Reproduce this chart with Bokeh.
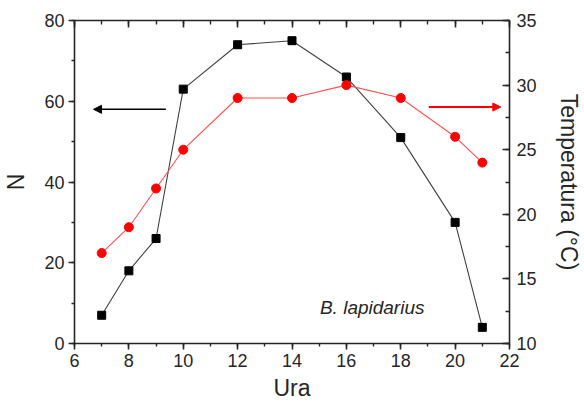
from bokeh.plotting import figure
from bokeh.models import (Range1d, LinearAxis, SingleIntervalTicker, Label, Arrow,
                          NormalHead, CustomJSTickFormatter)
from bokeh.embed import file_html
from bokeh.resources import INLINE

hours = [7, 8, 9, 10, 12, 14, 16, 18, 20, 21]
counts = [7, 18, 26, 63, 74, 75, 66, 51, 30, 4]
temps = [17, 19, 22, 25, 29, 29, 30, 29, 26, 24]
species = "B. lapidarius"
x_label = "Ura"
y_label = "N"
y2_label = "Temperatura (°C)"

FONT = "Liberation Sans"
TXT = "#262626"

p = figure(width=584, height=405, output_backend="svg", toolbar_location=None,
           x_range=Range1d(6, 22), y_range=Range1d(0, 80),
           min_border_left=73, min_border_right=73, min_border_top=20,
           min_border_bottom=62, x_axis_location=None, y_axis_location=None)
p.extra_y_ranges = {"temp": Range1d(10, 35)}
p.xgrid.visible = False
p.ygrid.visible = False
p.outline_line_color = None
p.background_fill_color = "white"
p.border_fill_color = "white"


def style(ax, tick_in=False):
    ax.axis_line_color = TXT
    ax.axis_line_width = 1.6
    ax.major_tick_line_color = TXT
    ax.minor_tick_line_color = TXT
    ax.major_tick_line_width = 1.6
    ax.minor_tick_line_width = 1.4
    if tick_in:
        ax.major_tick_in = 7
        ax.major_tick_out = 0
        ax.minor_tick_in = 4
        ax.minor_tick_out = 0
    else:
        ax.major_tick_in = 0
        ax.major_tick_out = 6
        ax.minor_tick_in = 0
        ax.minor_tick_out = 3
    ax.major_label_text_font = FONT
    ax.major_label_text_font_size = "18px"
    ax.major_label_text_color = TXT
    ax.axis_label_text_font = FONT
    ax.axis_label_text_font_size = "23px"
    ax.axis_label_text_font_style = "normal"
    ax.axis_label_text_color = TXT


xb = LinearAxis(ticker=SingleIntervalTicker(interval=2, num_minor_ticks=2), axis_label=x_label)
style(xb)
xb.major_label_standoff = 4
xb.axis_label_standoff = 5
p.add_layout(xb, "below")

xt = LinearAxis(ticker=SingleIntervalTicker(interval=2, num_minor_ticks=2),
                formatter=CustomJSTickFormatter(code="return ''"))
style(xt, tick_in=True)
xt.major_label_standoff = 0
p.add_layout(xt, "above")

yl = LinearAxis(ticker=SingleIntervalTicker(interval=20, num_minor_ticks=2), axis_label=y_label)
style(yl)
yl.major_label_standoff = 4
yl.axis_label_standoff = 12
p.add_layout(yl, "left")

yr = LinearAxis(y_range_name="temp", ticker=SingleIntervalTicker(interval=5, num_minor_ticks=2),
                axis_label=y2_label)
style(yr, tick_in=True)
yr.major_label_standoff = 7
yr.axis_label_standoff = 16
p.add_layout(yr, "right")

# series
p.line(hours, counts, line_color="#404040", line_width=1.1)
p.scatter(hours, counts, marker="square", size=8, fill_color="black", line_color="black")
p.line(hours, temps, y_range_name="temp", line_color="#ff5050", line_width=1.1)
p.scatter(hours, temps, y_range_name="temp", marker="circle", size=9,
          fill_color="red", line_color="red")

# arrows pointing to the relevant axis
p.add_layout(Arrow(x_start=9.36, y_start=58, x_end=6.7, y_end=58,
                   line_color="black", line_width=1.5,
                   end=NormalHead(size=8, fill_color="black", line_color="black")))
p.add_layout(Arrow(x_start=19.03, y_start=28.3, x_end=21.68, y_end=28.3, y_range_name="temp",
                   line_color="red", line_width=2,
                   end=NormalHead(size=8, fill_color="red", line_color="red")))

p.add_layout(Label(x=16.95, y=9, text=species, text_font=FONT, text_font_size="19px",
                   text_font_style="italic", text_color=TXT, text_align="center",
                   text_baseline="middle"))

open("out.html", "w").write(file_html(p, INLINE))
